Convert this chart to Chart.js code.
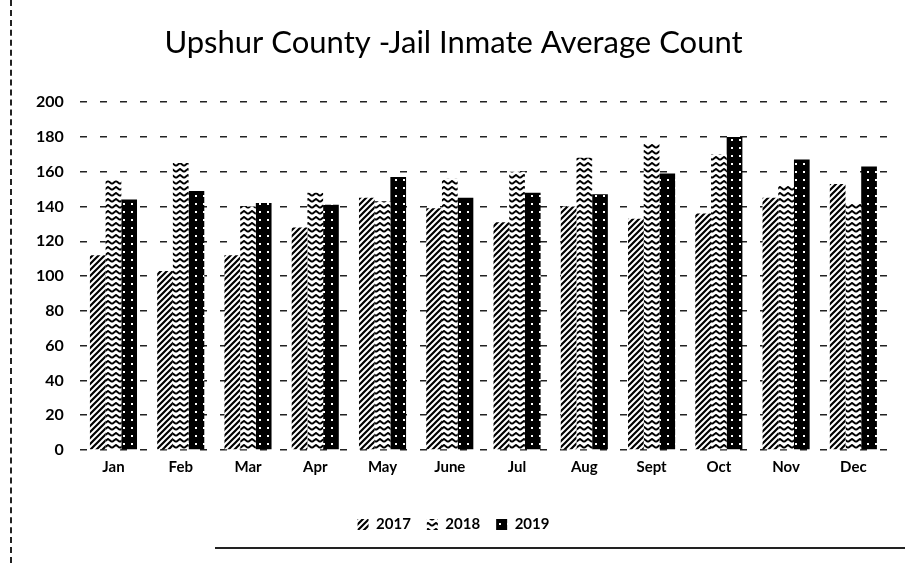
<!DOCTYPE html>
<html>
<head>
<meta charset="utf-8">
<script src="https://cdn.jsdelivr.net/npm/chart.js@4.4.0/dist/chart.umd.min.js"></script>
<style>
  html, body { margin: 0; padding: 0; background: #fff; }
  #wrap { position: relative; width: 912px; height: 563px; }
  #edgeLeft { position: absolute; left: 10px; top: 0; height: 563px; border-left: 2px dashed #222; }
  #edgeBottom { position: absolute; left: 215px; top: 547px; width: 690px; border-top: 2px solid #222; }
</style>
</head>
<body>
<div id="wrap">
  <canvas id="jail-chart" width="912" height="563"></canvas>
  <div id="edgeLeft"></div>
  <div id="edgeBottom"></div>
</div>
<script>
"use strict";
// chart data
const months = ["Jan", "Feb", "Mar", "Apr", "May", "June", "Jul", "Aug", "Sept", "Oct", "Nov", "Dec"];
const count2017 = [112, 103, 112, 128, 145, 139, 131, 140, 133, 136, 145, 153];
const count2018 = [155, 165, 140, 148, 143, 156, 160, 168, 176, 170, 152, 142];
const count2019 = [144, 149, 142, 141, 157, 145, 148, 147, 159, 180, 167, 163];
const yTicks = [0, 20, 40, 60, 80, 100, 120, 140, 160, 180, 200];

// pattern helper
const makePattern = function (w, h, draw) {
  const c = document.createElement("canvas");
  c.width = w;
  c.height = h;
  const g = c.getContext("2d");
  draw(g, w, h);
  return g.createPattern(c, "repeat");
};

// wide upward diagonal
const diagPattern = makePattern(6, 6, function (g, w, h) {
  g.fillStyle = "#fff";
  g.fillRect(0, 0, w, h);
  g.strokeStyle = "#000";
  g.lineWidth = 2.2;
  g.beginPath();
  g.moveTo(-1, h + 1); g.lineTo(w + 1, -1);
  g.moveTo(-1, 1); g.lineTo(1, -1);
  g.moveTo(w - 1, h + 1); g.lineTo(w + 1, h - 1);
  g.stroke();
});

// zigzag
const zigPattern = makePattern(8, 6, function (g, w, h) {
  g.fillStyle = "#fff";
  g.fillRect(0, 0, w, h);
  g.strokeStyle = "#000";
  g.lineWidth = 2;
  g.beginPath();
  g.moveTo(0, 4); g.lineTo(4, 1); g.lineTo(8, 4);
  g.stroke();
});

// black with white dots
const dotPattern = makePattern(8, 8, function (g, w, h) {
  g.fillStyle = "#000";
  g.fillRect(0, 0, w, h);
  g.fillStyle = "#fff";
  g.fillRect(3, 3, 2, 2);
});

const fontFam = "Lato, 'Open Sans', sans-serif";

new Chart(document.getElementById("jail-chart").getContext("2d"), {
  type: "bar",
  data: {
    labels: months,
    datasets: [
      { label: "2017", data: count2017, backgroundColor: diagPattern },
      { label: "2018", data: count2018, backgroundColor: zigPattern },
      { label: "2019", data: count2019, backgroundColor: dotPattern }
    ]
  },
  options: {
    responsive: false,
    animation: false,
    layout: { padding: { left: 20, right: 25, top: 4, bottom: 21 } },
    datasets: {
      bar: { categoryPercentage: 0.7, barPercentage: 1.0 }
    },
    scales: {
      x: {
        grid: { display: false },
        border: { display: false },
        ticks: { color: "#000", font: { family: fontFam, size: 15, weight: "bold" }, padding: 0 }
      },
      y: {
        min: 0,
        max: 200,
        afterBuildTicks: function (axis) {
          axis.ticks = yTicks.map(function (v) { return { value: v }; });
        },
        grid: { color: "#222", lineWidth: 1.5, drawTicks: false },
        border: { display: false, dash: [7, 13] },
        ticks: { color: "#000", font: { family: fontFam, size: 16, weight: "bold" }, padding: 16 }
      }
    },
    plugins: {
      title: {
        display: true,
        text: "Upshur County -Jail Inmate Average Count",
        color: "#000",
        font: { family: fontFam, size: 31, weight: "normal" },
        padding: { top: 20, bottom: 41 }
      },
      legend: {
        position: "bottom",
        title: {
          display: true,
          text: " ",
          font: { size: 10 },
          padding: { top: 0, bottom: 13 }
        },
        labels: {
          color: "#000",
          boxWidth: 11,
          boxHeight: 11,
          padding: 16,
          font: { family: fontFam, size: 15, weight: "bold" }
        }
      },
      tooltip: { enabled: false }
    }
  }
});
</script>
</body>
</html>
